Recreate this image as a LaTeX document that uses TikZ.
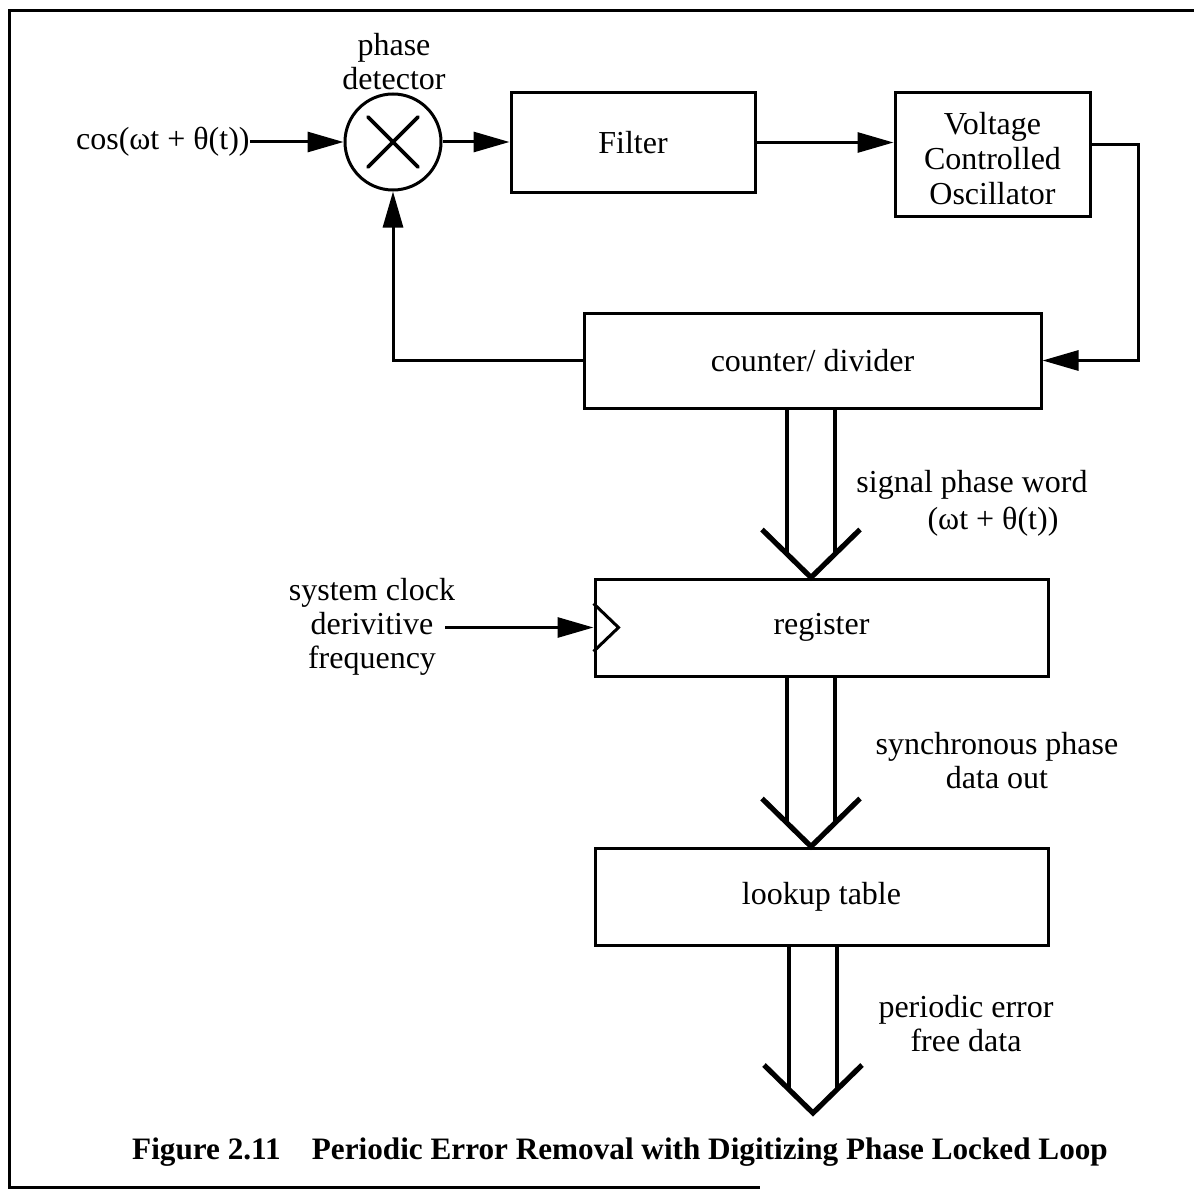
\documentclass[tikz,border=0pt]{standalone}
\usepackage{fontspec}
\setmainfont{Liberation Serif}
\usetikzlibrary{arrows.meta,calc}
\begin{document}
\begin{tikzpicture}[x=0.5pt,y=-0.5pt,
  every node/.style={font=\fontsize{16pt}{17pt}\selectfont},
  blk/.style={draw,line width=1.5pt,inner sep=0pt,align=center},
  arr/.style={line width=1.5pt,-{Triangle[length=18pt,width=10pt]}},
  wire/.style={line width=1.5pt,line join=miter},
  busl/.style={line width=1.6pt},
  busv/.style={line width=2.6pt,line join=miter},
  lbl/.style={inner sep=0pt,align=center}]
\useasboundingbox (0,0) rectangle (1194,1193);
% frame
\draw[line width=1.5pt] (1194,11) -- (9,11) -- (9,1187) -- (760,1187);
% phase detector
\node[draw,circle,line width=1.5pt,minimum size=48pt,inner sep=0pt] (pd) at (393,142) {};
\draw[line width=1.8pt,line cap=round] ($(pd)+(-25,-25)$) -- ($(pd)+(25,25)$) ($(pd)+(-25,25)$) -- ($(pd)+(25,-25)$);
\node[lbl] (pdl) at (394,62) {phase\\detector};
\node[lbl,anchor=east] (in) at (250,142) {cos(ωt + θ(t))};
% blocks
\node[blk,minimum width=122pt,minimum height=49.5pt] (filt) at (633,142.5) {Filter};
\node[blk,minimum width=97.5pt,minimum height=61.5pt] (vco) at (992.5,154.5) {};
\node[lbl,font=\fontsize{16pt}{17.5pt}\selectfont] (vcot) at (992.5,158.5) {Voltage\\Controlled\\Oscillator};
\node[blk,minimum width=228.5pt,minimum height=47.5pt] (cnt) at (812.5,360.5) {counter/ divider};
\node[blk,minimum width=226.5pt,minimum height=48.5pt] (reg) at (821.5,627.5) {register};
\node[blk,minimum width=226.5pt,minimum height=48.5pt] (lut) at (821.5,896.5) {lookup table};
% connectors
\draw[arr] (in.east) -- (pd.west);
\draw[arr] (pd.east) -- (pd.east -| filt.west);
\draw[arr] (filt.east) -- (filt.east -| vco.west);
\coordinate (rt) at (1138,360.5);
\draw[arr] ([yshift=4.75pt]vco.east) -| (rt) -- (cnt.east);
\draw[arr] (cnt.west) -| (pd.south);
% clock input
\node[lbl] (clkl) at (372,627) {system clock\\derivitive\\frequency};
\coordinate (clk) at (445,627.5);
\draw[arr] (clk) -- (reg.west);
\draw[wire] ([yshift=12pt]reg.west) -- ([xshift=12.5pt]reg.west) -- ([yshift=-12pt]reg.west);
% buses
\newcommand\busarr[2]{%
  \draw[busl] ($(#1.south -| #2)+(-24,0)$) -- ($(#2)+(-24,-23.5)$);
  \draw[busl] ($(#1.south -| #2)+(24,0)$) -- ($(#2)+(24,-23.5)$);
  \draw[busv] ($(#2)+(-49,-48)$) -- (#2) -- ($(#2)+(49,-48)$);}
\coordinate (t1) at ([xshift=-5.25pt]reg.north);
\coordinate (t2) at ([xshift=-5.25pt]lut.north);
\coordinate (t3) at (813,1113);
\busarr{cnt}{t1}
\busarr{reg}{t2}
\busarr{lut}{t3}
% bus labels
\node[lbl] (sp1) at (972,485) {signal phase word};
\node[lbl] (sp2) at (993,522) {(ωt + θ(t))};
\node[lbl] (sy) at (997,761) {synchronous phase\\data out};
\node[lbl] (pe) at (966,1024) {periodic error\\free data};
% caption
\node[lbl,font=\bfseries\fontsize{15.6pt}{17pt}\selectfont] (cap) at (620,1152) {Figure 2.11\hspace{1em}Periodic Error Removal with Digitizing Phase Locked Loop};
\end{tikzpicture}
\end{document}
